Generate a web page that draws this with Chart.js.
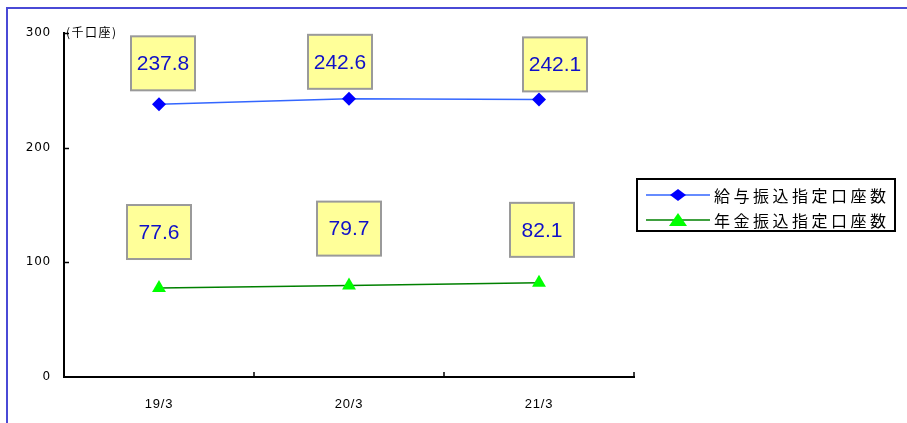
<!DOCTYPE html>
<html>
<head>
<meta charset="utf-8">
<script src="https://cdn.jsdelivr.net/npm/chart.js@4"></script>
<style>
  html, body { margin: 0; padding: 0; background: #fff; overflow: hidden; }
  #wrap { position: relative; width: 907px; height: 423px; }
  #frame { position: absolute; left: 6px; top: 7px; width: 1000px; height: 1000px;
           border-left: 2px solid #4a4ad6; border-top: 2px solid #4a4ad6; box-sizing: border-box; }
  canvas { position: absolute; left: 0; top: 0; }
</style>
</head>
<body>
<div id="wrap">
  <div id="frame"></div>
  <canvas id="c" width="907" height="423"></canvas>
</div>
<script>
const categories = ['19/3', '20/3', '21/3'];
const salaryValues = [237.8, 242.6, 242.1];
const pensionValues = [77.6, 79.7, 82.1];
const seriesNames = ['給与振込指定口座数', '年金振込指定口座数'];
const yTicks = [0, 100, 200, 300];
const unitLabel = '(千口座)';

// label box offsets relative to point (layout only)
const labelOffsets = [
  [[4, -41], [-9, -37], [16, -35]],
  [[0, -56], [0, -57], [3, -53]]
];

const decorPlugin = {
  id: 'decor',
  beforeDraw(chart) {
    if ('letterSpacing' in chart.ctx) chart.ctx.letterSpacing = '0.8px';
  },
  beforeDatasetsDraw(chart) {
    if ('letterSpacing' in chart.ctx) chart.ctx.letterSpacing = '0px';
  },
  afterDraw(chart) {
    const ctx = chart.ctx;
    const xs = chart.scales.x, ys = chart.scales.y;
    const ca = chart.chartArea;
    ctx.save();
    // inner ticks on y axis
    ctx.strokeStyle = '#000';
    ctx.lineWidth = 1.5;
    yTicks.forEach(v => {
      if (v === 0) return;
      const y = Math.round(ys.getPixelForValue(v)) + 0.5;
      ctx.beginPath(); ctx.moveTo(ca.left, y); ctx.lineTo(ca.left + 5, y); ctx.stroke();
    });
    // inner ticks on x axis (between categories + end)
    const step = xs.getPixelForValue(1) - xs.getPixelForValue(0);
    for (let i = 1; i <= categories.length; i++) {
      const x = Math.round(xs.getPixelForValue(i - 1) + step / 2);
      ctx.beginPath(); ctx.moveTo(x, ca.bottom); ctx.lineTo(x, ca.bottom - 5); ctx.stroke();
    }
    // unit label
    ctx.fillStyle = '#000';
    ctx.font = '12px "Noto Sans CJK JP", sans-serif';
    ctx.textAlign = 'left';
    ctx.textBaseline = 'middle';
    if ('letterSpacing' in ctx) ctx.letterSpacing = '1.5px';
    ctx.fillText(unitLabel, ca.left + 2, ca.top - 1);
    if ('letterSpacing' in ctx) ctx.letterSpacing = '0px';

    // data label boxes
    chart.data.datasets.forEach((ds, di) => {
      const meta = chart.getDatasetMeta(di);
      meta.data.forEach((pt, i) => {
        const off = labelOffsets[di][i];
        const cx = pt.x + off[0], cy = pt.y + off[1];
        const w = 64, h = 54;
        ctx.fillStyle = '#ffff99';
        ctx.fillRect(cx - w / 2, cy - h / 2, w, h);
        ctx.strokeStyle = '#9a9a9a';
        ctx.lineWidth = 2;
        ctx.strokeRect(cx - w / 2, cy - h / 2, w, h);
        ctx.fillStyle = '#1010c8';
        ctx.font = '21px "Liberation Sans", Arial, sans-serif';
        ctx.textAlign = 'center';
        ctx.textBaseline = 'middle';
        ctx.fillText(ds.data[i].toFixed(1), cx, cy + 1);
      });
    });

    // legend
    const lx = 637, ly = 179, lw = 258, lh = 52;
    ctx.fillStyle = '#fff';
    ctx.fillRect(lx, ly, lw, lh);
    ctx.strokeStyle = '#000';
    ctx.lineWidth = 2;
    ctx.strokeRect(lx, ly, lw, lh);
    chart.data.datasets.forEach((ds, di) => {
      const y = ly + 16 + di * 25;
      ctx.strokeStyle = ds.borderColor;
      ctx.lineWidth = 1.5;
      ctx.beginPath(); ctx.moveTo(646, y); ctx.lineTo(710, y); ctx.stroke();
      ctx.fillStyle = ds.pointBackgroundColor;
      ctx.beginPath();
      if (di === 0) {
        ctx.moveTo(678, y - 6); ctx.lineTo(686, y); ctx.lineTo(678, y + 6); ctx.lineTo(670, y);
      } else {
        ctx.moveTo(678, y - 7); ctx.lineTo(687, y + 6); ctx.lineTo(669, y + 6);
      }
      ctx.closePath(); ctx.fill();
      ctx.fillStyle = '#000';
      ctx.font = '16px "Noto Sans CJK JP", sans-serif';
      ctx.textAlign = 'left';
      ctx.textBaseline = 'middle';
      if ('letterSpacing' in ctx) ctx.letterSpacing = '3.5px';
      ctx.fillText(ds.label, 714, y + 1);
      if ('letterSpacing' in ctx) ctx.letterSpacing = '0px';
    });
    ctx.restore();
  }
};

new Chart(document.getElementById('c'), {
  type: 'line',
  data: {
    labels: categories,
    datasets: [
      {
        label: seriesNames[0],
        data: salaryValues,
        borderColor: '#3366ff',
        borderWidth: 1.5,
        pointStyle: 'rectRot',
        pointRadius: 7,
        pointBackgroundColor: '#0000ff',
        pointBorderColor: '#0000ff',
        pointBorderWidth: 0,
        tension: 0
      },
      {
        label: seriesNames[1],
        data: pensionValues,
        borderColor: '#008000',
        borderWidth: 1.5,
        pointStyle: 'triangle',
        pointRadius: 8,
        pointBackgroundColor: '#00ff00',
        pointBorderColor: '#00ff00',
        pointBorderWidth: 0,
        tension: 0
      }
    ]
  },
  options: {
    responsive: false,
    animation: false,
    events: [],
    layout: { padding: { left: 0, right: 273, top: 33, bottom: 0 } },
    plugins: { legend: { display: false }, tooltip: { enabled: false } },
    scales: {
      x: {
        offset: true,
        grid: { display: false, drawTicks: false },
        border: { display: true, color: '#000', width: 2 },
        ticks: { color: '#000', font: { family: '"Liberation Sans", Arial, sans-serif', size: 13 }, padding: 20 },
        afterFit(s) { s.height = 46; }
      },
      y: {
        min: 0, max: 300,
        afterBuildTicks(s) { s.ticks = yTicks.map(v => ({ value: v })); },
        grid: { display: false, drawTicks: false },
        border: { display: true, color: '#000', width: 2 },
        ticks: { color: '#000', font: { family: '"DejaVu Sans", sans-serif', size: 12 }, padding: 13 },
        afterFit(s) { s.width = 64; }
      }
    }
  },
  plugins: [decorPlugin]
});
</script>
</body>
</html>
